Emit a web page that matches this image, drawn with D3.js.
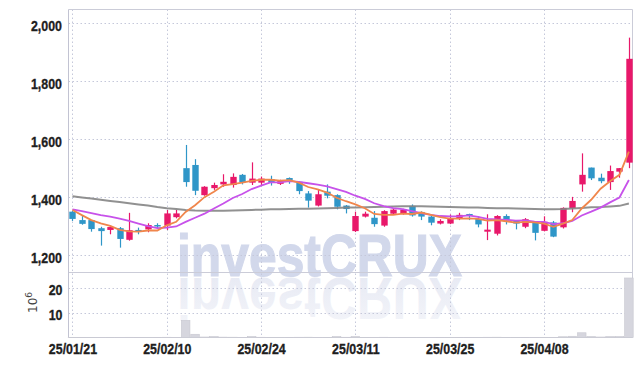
<!DOCTYPE html>
<html><head><meta charset="utf-8">
<script src="https://cdn.jsdelivr.net/npm/d3@7"></script>
<style>body{margin:0;background:#fff}svg{display:block}</style>
</head><body><svg id="c" width="642" height="366"></svg>
<script>
const dates = ["25/01/21","25/01/22","25/01/23","25/01/24","25/01/31","25/02/03","25/02/04","25/02/05","25/02/06","25/02/07",
"25/02/10","25/02/11","25/02/12","25/02/13","25/02/14","25/02/17","25/02/18","25/02/19","25/02/20","25/02/21",
"25/02/24","25/02/25","25/02/26","25/02/27","25/02/28","25/03/04","25/03/05","25/03/06","25/03/07","25/03/10",
"25/03/11","25/03/12","25/03/13","25/03/14","25/03/17","25/03/18","25/03/19","25/03/20","25/03/21","25/03/24",
"25/03/25","25/03/26","25/03/27","25/03/28","25/03/31","25/04/01","25/04/02","25/04/03","25/04/04","25/04/07",
"25/04/08","25/04/09","25/04/10","25/04/11","25/04/14","25/04/15","25/04/16","25/04/17","25/04/18","25/04/21"];
const openP  = [1350,1321,1321,1293,1287,1293,1253,1287,1289,1304,1302,1331,1500,1511,1407,1431,1444,1442,1477,1450,1450,1462,1446,1466,1453,1413,1371,1419,1407,1371,1283,1333,1329,1302,1343,1343,1370,1349,1333,1309,1309,1327,1342,1325,1281,1274,1335,1318,1298,1311,1284,1313,1296,1362,1444,1502,1467,1452,1488,1519];
const highP  = [1352,1338,1321,1298,1302,1297,1346,1295,1310,1310,1356,1356,1580,1531,1438,1450,1479,1482,1480,1520,1471,1474,1460,1468,1455,1421,1425,1444,1410,1373,1350,1350,1352,1355,1362,1360,1375,1351,1335,1324,1340,1346,1343,1334,1341,1338,1341,1321,1328,1314,1334,1318,1365,1401,1551,1502,1481,1509,1500,1950];
const lowP   = [1318,1305,1281,1233,1272,1226,1250,1272,1279,1293,1287,1327,1436,1407,1405,1425,1436,1433,1444,1442,1440,1440,1442,1446,1410,1364,1368,1396,1358,1344,1280,1330,1298,1298,1340,1340,1333,1321,1303,1306,1307,1321,1321,1296,1252,1268,1306,1289,1293,1251,1282,1262,1292,1348,1419,1459,1448,1425,1467,1500];
const closeP = [1325,1308,1290,1283,1297,1256,1286,1281,1304,1300,1344,1344,1452,1422,1436,1442,1453,1470,1451,1464,1464,1451,1457,1457,1421,1388,1410,1405,1367,1359,1335,1343,1307,1352,1357,1357,1337,1333,1312,1318,1328,1339,1336,1306,1288,1335,1320,1309,1324,1277,1315,1264,1363,1387,1477,1465,1455,1490,1500,1877];
const ma5  = [1356,1338,1321,1310,1301,1287,1282,1281,1285,1285,1303,1315,1349,1372,1400,1419,1441,1445,1450,1456,1460,1460,1457,1459,1450,1435,1427,1416,1398,1386,1375,1362,1342,1339,1339,1343,1342,1347,1339,1331,1326,1326,1327,1325,1319,1321,1317,1312,1315,1313,1309,1298,1309,1321,1361,1391,1429,1455,1477,1557];
const ma10 = [1358,1352,1345,1338,1333,1326,1318,1309,1300,1293,1295,1299,1315,1329,1343,1361,1378,1397,1411,1428,1440,1451,1451,1455,1453,1448,1443,1437,1428,1418,1405,1394,1379,1369,1362,1359,1352,1345,1339,1335,1334,1334,1337,1332,1325,1323,1322,1319,1320,1316,1315,1307,1310,1318,1337,1350,1364,1382,1399,1459];
const maLong = [1403,1399,1395,1391,1387,1383,1379,1375,1371,1366,1362,1359,1356,1354,1353,1353,1353,1354,1355,1356,1357,1358,1358,1359,1360,1360,1361,1362,1363,1364,1364,1365,1366,1367,1368,1369,1369,1369,1368,1367,1366,1365,1364,1364,1363,1362,1362,1361,1360,1359,1358,1358,1359,1361,1363,1365,1366,1368,1370,1378];
const volume = [0.06,0.04,0.05,0.08,0.05,0.07,0.09,0.04,0.05,0.03,0.1,0.08,6.9,1.3,0.2,0.4,0.15,0.12,0.08,0.4,0.1,0.06,0.05,0.04,0.1,0.12,0.08,0.06,0.4,0.1,0.4,0.06,0.08,0.1,0.05,0.04,0.06,0.05,0.07,0.04,0.05,0.04,0.03,0.05,0.1,0.12,0.06,0.05,0.04,0.08,0.06,0.07,0.3,0.5,1.9,0.4,0.2,0.4,0.4,23.9];
const priceTicks = [1200,1400,1600,1800,2000];
const volTicks = [10,20];
const dateTicks = ["25/01/21","25/02/10","25/02/24","25/03/11","25/03/25","25/04/08"];

const svg = d3.select("#c");
const L = 68.5, R = 632.5, T = 9.5, SEP = 272.5, B = 337.5;
const FONT = "'Liberation Sans',Arial,sans-serif";
const x = d3.scaleLinear().domain([-0.42, 59.33]).range([L, R - 0.5]);
const y = d3.scaleLinear().domain([1142, 2047]).range([SEP - 0.5, T]);
const yv = d3.scaleLinear().domain([0, 26.1]).range([B, SEP]);
const idx = d3.range(dates.length);

// watermark (one text, reflected copy via <use>)
const defs = svg.append("defs");
const g1 = defs.append("linearGradient").attr("id","refl").attr("x1",0).attr("y1",0).attr("x2",0).attr("y2",1);
g1.append("stop").attr("offset","0%").attr("stop-color","#e2e5f1").attr("stop-opacity",0.35);
g1.append("stop").attr("offset","100%").attr("stop-color","#e2e5f1").attr("stop-opacity",0.9);
const wmX = 177, wmY = 276;
defs.append("text").attr("id","wm").attr("x", wmX).attr("y", wmY).text("investCRUX")
  .attr("font-family", FONT).attr("font-weight","bold").attr("font-size",60)
  .attr("textLength",285).attr("lengthAdjust","spacingAndGlyphs");
svg.append("use").attr("href","#wm").attr("fill","#d2d8eb").attr("stroke","#d2d8eb").attr("stroke-width",1.2);
svg.append("use").attr("href","#wm").attr("fill","url(#refl)")
  .attr("transform",`translate(0,${2*wmY+2}) scale(1,-1)`);

// grid
const gridC = "#c5c8da";
const grid = svg.append("g").attr("stroke", gridC).attr("stroke-dasharray","1.5,2.5").attr("stroke-width",1);
grid.selectAll(".hp").data(priceTicks).join("line")
  .attr("x1", L).attr("x2", R).attr("y1", d => Math.round(y(d))+0.5).attr("y2", d => Math.round(y(d))+0.5);
grid.selectAll(".hv").data(volTicks).join("line")
  .attr("x1", L).attr("x2", R).attr("y1", d => Math.round(yv(d))+0.5).attr("y2", d => Math.round(yv(d))+0.5);
grid.selectAll(".vx").data(dateTicks).join("line")
  .attr("x1", d => Math.round(x(dates.indexOf(d)))+0.5).attr("x2", d => Math.round(x(dates.indexOf(d)))+0.5)
  .attr("y1", T).attr("y2", B);

// frame
const fr = svg.append("g").attr("stroke","#cbccd8").attr("stroke-width",1).attr("fill","none");
fr.append("line").attr("x1",L).attr("x2",R).attr("y1",T).attr("y2",T);
fr.append("line").attr("x1",R).attr("x2",R).attr("y1",T).attr("y2",B);
fr.append("line").attr("x1",L).attr("x2",R).attr("y1",SEP).attr("y2",SEP);
fr.append("line").attr("x1",L).attr("x2",R).attr("y1",B).attr("y2",B);
fr.append("line").attr("x1",L).attr("x2",L).attr("y1",T).attr("y2",B).attr("stroke","#c2c3d2");

// volume bars
const bw = 8.6;
svg.append("g").selectAll("rect").data(idx).join("rect")
  .attr("x", i => x(i) - bw/2).attr("width", bw)
  .attr("y", i => yv(volume[i])).attr("height", i => Math.max(0, yv(0) - yv(volume[i])))
  .attr("fill","#d6d6de").attr("stroke","#c8c8d0").attr("stroke-width",0.6);

// candles
const UP = "#e8186a", DN = "#2f96c8";
const cw = 6.4;
const cg = svg.append("g");
const col = i => closeP[i] >= openP[i] ? UP : DN;
cg.selectAll("line").data(idx).join("line")
  .attr("x1", i => Math.round(x(i))+0.5).attr("x2", i => Math.round(x(i))+0.5)
  .attr("y1", i => y(highP[i])).attr("y2", i => y(lowP[i]))
  .attr("stroke", col).attr("stroke-width",1.2);
cg.selectAll("rect").data(idx).join("rect")
  .attr("x", i => Math.round(x(i))+0.5 - cw/2).attr("width", cw)
  .attr("y", i => y(Math.max(openP[i], closeP[i])))
  .attr("height", i => Math.max(1.5, Math.abs(y(openP[i]) - y(closeP[i]))))
  .attr("fill", col);

// moving averages
const line = arr => d3.line().x(i => x(i)).y(i => y(arr[i]))(idx);
svg.append("path").attr("d", line(maLong)).attr("fill","none").attr("stroke","#858585").attr("stroke-width",2).attr("stroke-opacity",0.9);
svg.append("path").attr("d", line(ma10)).attr("fill","none").attr("stroke","#c752ea").attr("stroke-width",1.8);
svg.append("path").attr("d", line(ma5)).attr("fill","none").attr("stroke","#f0864c").attr("stroke-width",1.8);

// axes labels
const K = 0.8;
function styleTicks(sel) {
  sel.selectAll("text").attr("font-family",FONT).attr("font-weight","bold").attr("font-size",15.5).attr("fill","#1e1e1e")
    .attr("stroke","#1e1e1e").attr("stroke-width",0.35)
    .each(function() {
      const w = this.getComputedTextLength();
      d3.select(this).attr("textLength", w*K).attr("lengthAdjust","spacingAndGlyphs");
    });
}
const yAxis = d3.axisLeft(y).tickValues(priceTicks).tickSize(0).tickPadding(6.5).tickFormat(d3.format(","));
const ya = svg.append("g").attr("transform",`translate(${L},0)`).call(yAxis);
ya.select(".domain").remove();
ya.selectAll("text").attr("dy","0.45em");
styleTicks(ya);

const vAxis = d3.axisLeft(yv).tickValues(volTicks).tickSize(0).tickPadding(6).tickFormat(d3.format("d"));
const va = svg.append("g").attr("transform",`translate(${L},0)`).call(vAxis);
va.select(".domain").remove();
va.selectAll("text").attr("dy","0.45em");
styleTicks(va);

const xAxis = d3.axisBottom(x).tickValues(dateTicks.map(d => dates.indexOf(d))).tickSize(0).tickPadding(5)
  .tickFormat(i => dates[i]);
const xa = svg.append("g").attr("transform",`translate(0,${B})`).call(xAxis);
xa.select(".domain").remove();
xa.selectAll("text").attr("dy","0.75em");
styleTicks(xa);

// volume unit label
const ul = svg.append("text").attr("transform","translate(37,313) rotate(-90)")
  .attr("font-family","'DejaVu Sans','Liberation Sans',sans-serif").attr("font-size",12).attr("fill","#444");
ul.append("tspan").text("10");
ul.append("tspan").text("6").attr("font-size",9).attr("dy",-5);
</script></body></html>
